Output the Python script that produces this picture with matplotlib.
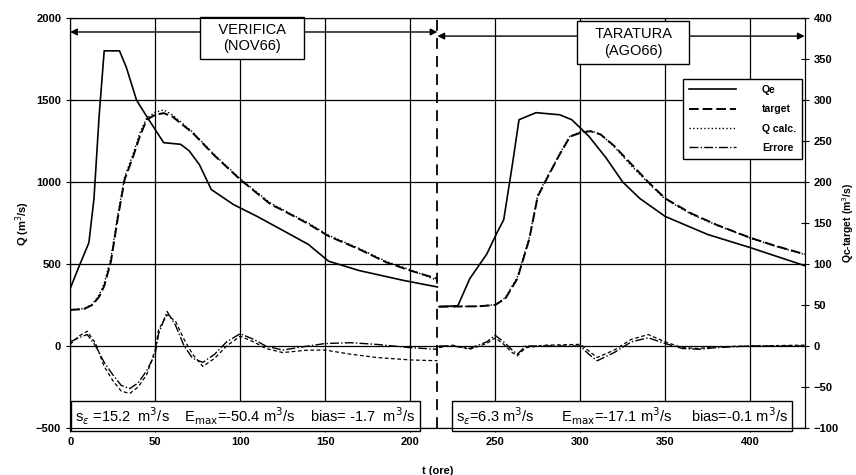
#!/usr/bin/env python3

import matplotlib
matplotlib.use("Agg")
import matplotlib.pyplot as plt

plt.rcParams["font.family"] = ["Liberation Sans", "DejaVu Sans"]

# VERIFICA (NOV66), t in ore, Q in m3/s
qe_ver_t = [0, 5, 11, 14, 17, 20, 29, 33, 39, 45, 50, 55, 65, 70, 76, 83, 96, 110, 124, 140, 152, 170, 196, 216]
qe_ver = [350, 480, 630, 900, 1400, 1800, 1800, 1700, 1500, 1400, 1320, 1240, 1230, 1190, 1106, 954, 863, 790, 711, 620, 517, 460, 400, 360]

target_ver_t = [0, 8, 13, 17, 20, 24, 28, 32, 37, 41, 45, 50, 55, 60, 72, 85, 100, 118, 124, 140, 152, 170, 186, 200, 216]
target_ver = [220, 225, 250, 300, 365, 517, 780, 1015, 1155, 1280, 1380, 1410, 1420, 1400, 1300, 1160, 1015, 863, 833, 745, 670, 590, 510, 460, 410]
qcalc_ver = [220, 228, 255, 310, 380, 540, 800, 1030, 1170, 1300, 1390, 1425, 1440, 1410, 1305, 1165, 1020, 870, 838, 750, 675, 595, 515, 465, 400]

# TARATURA (AGO66)
qe_tar_t = [217, 228, 235, 245, 251, 255, 260, 264, 274, 288, 295, 305, 315, 325, 335, 350, 375, 400, 432]
qe_tar = [240, 245, 410, 560, 690, 770, 1100, 1380, 1423, 1410, 1380, 1280, 1150, 1000, 900, 790, 680, 600, 490]

target_tar_t = [217, 240, 250, 256, 263, 270, 275, 281, 288, 294, 300, 306, 312, 320, 330, 340, 350, 365, 380, 400, 415, 432]
target_tar = [240, 242, 250, 290, 410, 650, 912, 1033, 1170, 1277, 1300, 1310, 1290, 1220, 1110, 1000, 900, 810, 740, 660, 610, 560]
qcalc_tar = [240, 242, 252, 295, 420, 660, 920, 1040, 1175, 1280, 1305, 1312, 1292, 1215, 1100, 995, 895, 805, 738, 658, 608, 558]

# errors (Qc - target), right axis
err_ver_t = [0, 5, 10, 15, 20, 25, 30, 35, 40, 45, 50, 52, 57, 62, 67, 72, 78, 85, 92, 100, 108, 115, 125, 140, 150, 165, 180, 200, 216]
err_ver = [5, 10, 14, 0, -20, -35, -48, -52, -45, -30, -10, 15, 42, 25, 0, -15, -20, -10, 5, 15, 8, 0, -5, 0, 3, 4, 2, -2, -4]
err_ver_b = [2, 12, 18, 3, -25, -42, -55, -58, -50, -35, -5, 20, 38, 30, 8, -10, -25, -15, 0, 12, 5, -3, -8, -5, -5, -10, -14, -17, -18]

err_tar_t = [217, 225, 235, 245, 250, 255, 260, 263, 268, 280, 300, 305, 310, 320, 330, 340, 350, 360, 370, 380, 400, 432]
err_tar = [0, 0, -3, 5, 13, 5, -5, -10, 0, 0, 0, -10, -18, -8, 5, 10, 3, -3, -4, -2, 0, 0]
err_tar_b = [-2, 1, -4, 3, 10, 2, -8, -12, -2, 1, 2, -6, -14, -5, 8, 14, 5, -2, -3, -1, 0, 1]

t_split = 216
stats_ver = r"s$_\varepsilon$ =15.2  m$^3$/s    E$_{\rm max}$=-50.4 m$^3$/s    bias= -1.7  m$^3$/s"
stats_tar = r"s$_\varepsilon$=6.3 m$^3$/s       E$_{\rm max}$=-17.1 m$^3$/s     bias=-0.1 m$^3$/s"


def main():
    dpi = 100
    fig = plt.figure(figsize=(856 / dpi, 475 / dpi), dpi=dpi)
    ax = fig.add_axes([0.082, 0.099, 0.858, 0.863])
    ax2 = ax.twinx()

    ax.set_xlim(0, 432)
    ax.set_ylim(-500, 2000)
    ax2.set_ylim(-100, 400)
    ax.set_xticks(range(0, 401, 50))
    ax.set_yticks(range(-500, 2001, 500))
    ax2.set_yticks(range(-100, 401, 50))
    ax.grid(True, color="black", linewidth=0.9)
    ax.set_axisbelow(True)

    for a in (ax, ax2):
        a.tick_params(direction="inout", length=6, labelsize=8)
        for lab in a.get_xticklabels() + a.get_yticklabels():
            lab.set_fontweight("bold")
    ax.set_xlabel("t (ore)", fontsize=8, fontweight="bold", labelpad=14)
    ax.set_ylabel("Q (m$^3$/s)", fontsize=8, fontweight="bold", labelpad=3)
    ax2.set_ylabel("Qc-target (m$^3$/s)", fontsize=7.5, fontweight="bold", labelpad=1)

    kw = dict(color="black")
    l1, = ax.plot(qe_ver_t, qe_ver, "-", lw=1.2, **kw)
    ax.plot(qe_tar_t, qe_tar, "-", lw=1.2, **kw)
    l2, = ax.plot(target_ver_t, target_ver, "--", lw=1.4, dashes=(5, 2), **kw)
    ax.plot(target_tar_t, target_tar, "--", lw=1.4, dashes=(5, 2), **kw)
    l3, = ax.plot(target_ver_t, qcalc_ver, ":", lw=1.0, **kw)
    ax.plot(target_tar_t, qcalc_tar, ":", lw=1.0, **kw)

    l4, = ax2.plot(err_ver_t, err_ver, "-.", lw=1.0, **kw)
    ax2.plot(err_tar_t, err_tar, "-.", lw=1.0, **kw)
    ax2.plot(err_ver_t, err_ver_b, "--", lw=0.9, dashes=(3, 2), **kw)
    ax2.plot(err_tar_t, err_tar_b, "--", lw=0.9, dashes=(3, 2), **kw)

    # split between the two periods
    ax.axvline(t_split, color="black", lw=1.3, ls=(0, (6, 4)))
    arrow = dict(arrowstyle="<|-|>", color="black", lw=1.0, mutation_scale=10,
                 shrinkA=0, shrinkB=0)
    ax.annotate("", xy=(0, 1915), xytext=(t_split, 1915), arrowprops=arrow)
    ax.annotate("", xy=(432, 1890), xytext=(t_split, 1890), arrowprops=arrow)

    box = dict(boxstyle="square,pad=0.4", fc="white", ec="black", lw=1.0)
    ax.text(107, 1878, "   VERIFICA   \n(NOV66)", ha="center", va="center",
            fontsize=10.5, linespacing=1.25, bbox=box)
    ax.text(331, 1850, "   TARATURA   \n(AGO66)", ha="center", va="center",
            fontsize=10.5, linespacing=1.25, bbox=box)

    sbox = dict(boxstyle="square,pad=0.3", fc="white", ec="black", lw=1.0)
    ax.text(3, -428, stats_ver, ha="left", va="center", fontsize=10.5, bbox=sbox)
    ax.text(227, -428, stats_tar, ha="left", va="center", fontsize=10.5, bbox=sbox)

    leg = ax2.legend([l1, l2, l3, l4], ["Qe", "target", "Q calc.", "Errore"],
                     loc="upper right", bbox_to_anchor=(1.004, 0.865),
                     prop={"weight": "bold", "size": 7.5},
                     handlelength=4.5, handletextpad=2.5, labelspacing=0.9,
                     fancybox=False, framealpha=1, borderpad=0.6)
    leg.get_frame().set_edgecolor("black")
    leg.get_frame().set_linewidth(1.0)

    plt.savefig("out.png", dpi=dpi)


if __name__ == "__main__":
    main()
